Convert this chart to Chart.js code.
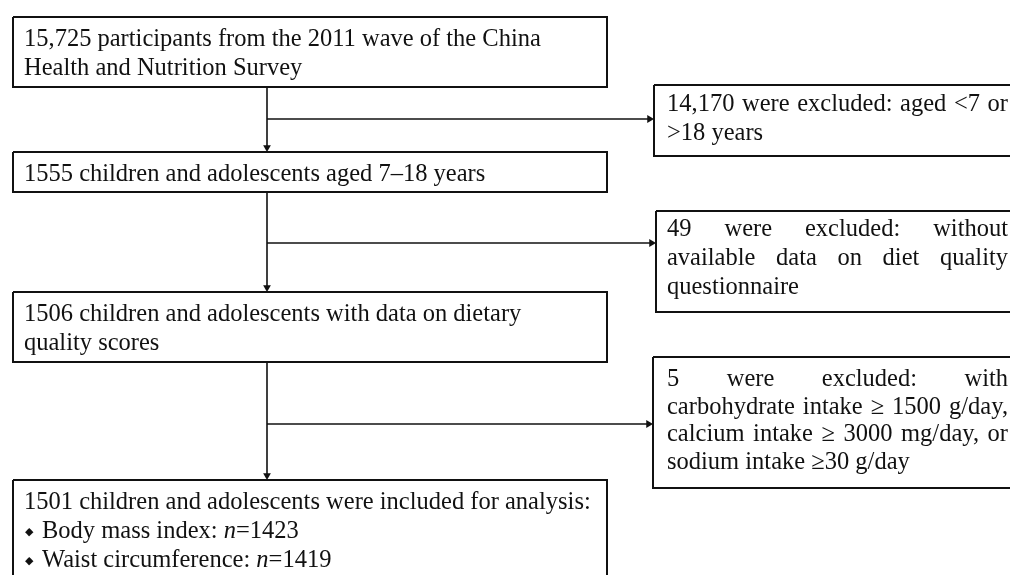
<!DOCTYPE html>
<html>
<head>
<meta charset="utf-8">
<script src="https://cdn.jsdelivr.net/npm/chart.js@4"></script>
<style>
  html, body { margin: 0; padding: 0; background: #fff; }
  #flow { display: block; }
</style>
</head>
<body>
<canvas id="flow" width="1010" height="575"></canvas>
<script>
// textos das etapas principais (coluna esquerda)
const etapas = [
  ["15,725 participants from the 2011 wave of the China", "Health and Nutrition Survey"],
  ["1555 children and adolescents aged 7–18 years"],
  ["1506 children and adolescents with data on dietary", "quality scores"],
  ["1501 children and adolescents were included for analysis:", "◆ Body mass index: *n*=1423", "◆ Waist circumference: *n*=1419"]
];

// textos das exclusões (coluna direita)
const exclusoes = [
  ["14,170 were excluded:  aged <7 or", ">18 years"],
  ["49 were excluded: without", "available data on diet quality", "questionnaire"],
  ["5 were excluded: with", "carbohydrate intake ≥ 1500 g/day,", "calcium intake ≥ 3000 mg/day, or", "sodium intake ≥30 g/day"]
];

// layout (em coordenadas da escala, 0..1010 x 0..575)
const caixaEsq = { esquerda: 13, direita: 607, topos: [17, 152, 292, 480], bases: [87, 192, 362, 600] };
const caixaDir = { esquerdas: [654, 656, 653], direita: 1030, topos: [85, 211, 357], bases: [156, 312, 488] };
const eixoX = 267;
const ramosY = [119, 243, 424];
const linhaTexto = { esq: { x: 24, primeira: 29, passo: 29 }, dir: { x: 667, primeira: [26, 25, 29], passo: [29, 29, 27.5], limite: 1008 } };
const fonte = "24.5px 'Liberation Serif', 'Times New Roman', serif";
const cor = "#111";

function retangulo(l, t, r, b) {
  return [{ x: l, y: t }, { x: r, y: t }, { x: r, y: b }, { x: l, y: b }, { x: l, y: t }];
}

const conjuntos = [];
// caixas principais
caixaEsq.topos.forEach((t, i) => {
  conjuntos.push({ data: retangulo(caixaEsq.esquerda, t, caixaEsq.direita, caixaEsq.bases[i]), showLine: true, borderColor: cor, borderWidth: 2, pointRadius: 0 });
});
// caixas de exclusão
caixaDir.topos.forEach((t, i) => {
  conjuntos.push({ data: retangulo(caixaDir.esquerdas[i], t, caixaDir.direita, caixaDir.bases[i]), showLine: true, borderColor: cor, borderWidth: 2, pointRadius: 0 });
});
// linhas verticais entre etapas
for (let i = 0; i < caixaEsq.topos.length - 1; i++) {
  conjuntos.push({ data: [{ x: eixoX, y: caixaEsq.bases[i] }, { x: eixoX, y: caixaEsq.topos[i + 1] - 4 }], showLine: true, borderColor: cor, borderWidth: 1.6, pointRadius: 0 });
}
// ramos horizontais para exclusões
ramosY.forEach((y, i) => {
  conjuntos.push({ data: [{ x: eixoX, y }, { x: caixaDir.esquerdas[i] - 4, y }], showLine: true, borderColor: cor, borderWidth: 1.6, pointRadius: 0 });
});
// pontas das setas
conjuntos.push({
  data: caixaEsq.topos.slice(1).map(t => ({ x: eixoX, y: t - 4.5 })),
  pointStyle: 'triangle', rotation: 180, pointRadius: 4.5, backgroundColor: cor, borderColor: cor, borderWidth: 0
});
conjuntos.push({
  data: ramosY.map((y, i) => ({ x: caixaDir.esquerdas[i] - 4.5, y })),
  pointStyle: 'triangle', rotation: 90, pointRadius: 4.5, backgroundColor: cor, borderColor: cor, borderWidth: 0
});

function desenharLinha(ctx, texto, x, y, largura) {
  let cx = x;
  if (texto.startsWith("◆ ")) {
    ctx.font = "11px 'DejaVu Sans'";
    ctx.fillText("◆", cx + 1, y - 3);
    cx += 18;
    texto = texto.slice(2);
  }
  const partes = texto.split("*");
  if (largura && partes.length === 1) {
    // texto justificado
    ctx.font = fonte;
    const palavras = texto.split(/\s+/);
    const soma = palavras.reduce((s, p) => s + ctx.measureText(p).width, 0);
    const espaco = palavras.length > 1 ? (largura - soma) / (palavras.length - 1) : 0;
    palavras.forEach(p => {
      ctx.fillText(p, cx, y);
      cx += ctx.measureText(p).width + espaco;
    });
    return;
  }
  partes.forEach((p, i) => {
    ctx.font = (i % 2 === 1 ? "italic " : "") + fonte;
    ctx.fillText(p, cx, y);
    cx += ctx.measureText(p).width;
  });
}

const pluginTextos = {
  id: 'textos',
  beforeDraw(chart) {
    const ctx = chart.ctx;
    ctx.save();
    ctx.fillStyle = "#fff";
    ctx.fillRect(0, 0, chart.width, chart.height);
    ctx.restore();
  },
  afterDraw(chart) {
    const ctx = chart.ctx;
    const sx = chart.scales.x, sy = chart.scales.y;
    ctx.save();
    ctx.fillStyle = cor;
    ctx.textBaseline = "alphabetic";
    etapas.forEach((linhas, i) => {
      linhas.forEach((l, j) => {
        const y = caixaEsq.topos[i] + linhaTexto.esq.primeira + j * linhaTexto.esq.passo;
        desenharLinha(ctx, l, sx.getPixelForValue(linhaTexto.esq.x), sy.getPixelForValue(y), 0);
      });
    });
    exclusoes.forEach((linhas, i) => {
      linhas.forEach((l, j) => {
        const y = caixaDir.topos[i] + linhaTexto.dir.primeira[i] + j * linhaTexto.dir.passo[i];
        const x0 = sx.getPixelForValue(linhaTexto.dir.x);
        const larg = j < linhas.length - 1 ? sx.getPixelForValue(linhaTexto.dir.limite) - x0 : 0;
        desenharLinha(ctx, l, x0, sy.getPixelForValue(y), larg);
      });
    });
    ctx.restore();
  }
};

new Chart(document.getElementById("flow").getContext("2d"), {
  type: "scatter",
  data: { datasets: conjuntos },
  options: {
    responsive: false,
    animation: false,
    devicePixelRatio: 1,
    layout: { padding: 0, autoPadding: false },
    plugins: { legend: { display: false }, tooltip: { enabled: false } },
    elements: { line: { tension: 0 } },
    scales: {
      x: { type: "linear", min: 0, max: 1010, display: false },
      y: { type: "linear", min: 0, max: 575, reverse: true, display: false }
    }
  },
  plugins: [pluginTextos]
});
</script>
</body>
</html>
